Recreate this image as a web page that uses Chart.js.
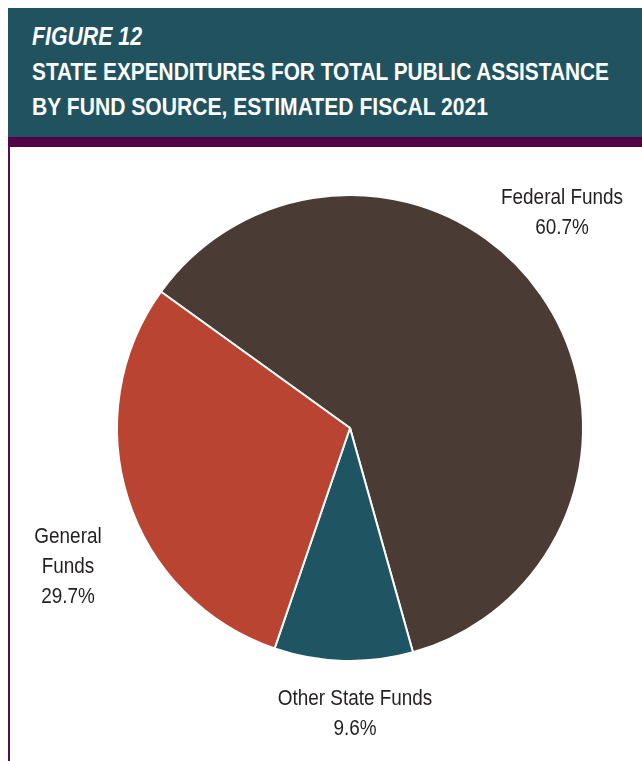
<!DOCTYPE html>
<html>
<head>
<meta charset="utf-8">
<script src="https://cdn.jsdelivr.net/npm/chart.js@4"></script>
<style>
  html, body { margin: 0; padding: 0; background: #fff; }
  body { width: 642px; height: 761px; position: relative; overflow: hidden; }
  .head {
    position: absolute; left: 8px; top: 8px; width: 634px; height: 129px;
    background: #20525f; color: #fff;
    font-family: "Liberation Sans", Arial, sans-serif;
    font-weight: bold;
  }
  .head div { position: absolute; left: 24px; white-space: nowrap; transform-origin: 0 0; }
  .head .fig { top: 14px; font-size: 25px; font-style: italic; }
  .head .t1 { top: 50px; font-size: 24px; }
  .head .t2 { top: 85px; font-size: 24px; }
  .band { position: absolute; left: 8px; top: 137px; width: 634px; height: 10px; background: #520047; }
  .rule { position: absolute; left: 8px; top: 147px; width: 2px; height: 614px; background: #5a0a50; }
  #wrap { position: absolute; left: 10px; top: 147px; width: 632px; height: 614px; }
</style>
</head>
<body>
<div class="head">
  <div class="fig" data-w="110">FIGURE 12</div>
  <div class="t1" data-w="577">STATE EXPENDITURES FOR TOTAL PUBLIC ASSISTANCE</div>
  <div class="t2" data-w="456">BY FUND SOURCE, ESTIMATED FISCAL 2021</div>
</div>
<div class="band"></div>
<div class="rule"></div>
<div id="wrap"><canvas id="pie" width="632" height="614"></canvas></div>
<script>
// fund sources, clockwise from the General/Federal boundary
const sources = ["Federal Funds", "Other State Funds", "General Funds"];
const shares = [60.7, 9.6, 29.7];
const colors = ["#4a3b34", "#1f5462", "#b94431"];

// label text lines and where each block sits on the canvas
const labelLines = [["Federal Funds"], ["Other State Funds"], ["General", "Funds"]];
const labelAt = [[552, 57], [345, 558], [58, 396]];

// squeeze the header lines into a condensed look
document.querySelectorAll(".head div").forEach(el => {
  const w = el.getBoundingClientRect().width;
  el.style.transform = "scaleX(" + (el.dataset.w / w) + ")";
});

const pieLabels = {
  id: "pieLabels",
  afterDraw(chart) {
    const ctx = chart.ctx;
    ctx.save();
    ctx.fillStyle = "#231f20";
    ctx.font = "22px 'Liberation Sans', sans-serif";
    ctx.textAlign = "center";
    ctx.textBaseline = "alphabetic";
    const squeeze = 122 / ctx.measureText("Federal Funds").width;
    labelAt.forEach(([x, y], i) => {
      const lines = labelLines[i].concat(shares[i].toFixed(1) + "%");
      lines.forEach((s, j) => {
        ctx.save();
        ctx.translate(x, y + j * 30);
        ctx.scale(squeeze, 1);
        ctx.fillText(s, 0, 0);
        ctx.restore();
      });
    });
    ctx.restore();
  }
};

new Chart(document.getElementById("pie"), {
  type: "pie",
  data: {
    labels: sources,
    datasets: [{
      data: shares,
      backgroundColor: colors,
      borderColor: "#ffffff",
      borderWidth: 2
    }]
  },
  options: {
    responsive: false,
    animation: false,
    devicePixelRatio: 1,
    rotation: 305.8,
    radius: 233,
    layout: { padding: { left: 107, right: 59, top: 48, bottom: 100 } },
    plugins: {
      legend: { display: false },
      tooltip: { enabled: false }
    }
  },
  plugins: [pieLabels]
});
</script>
</body>
</html>
